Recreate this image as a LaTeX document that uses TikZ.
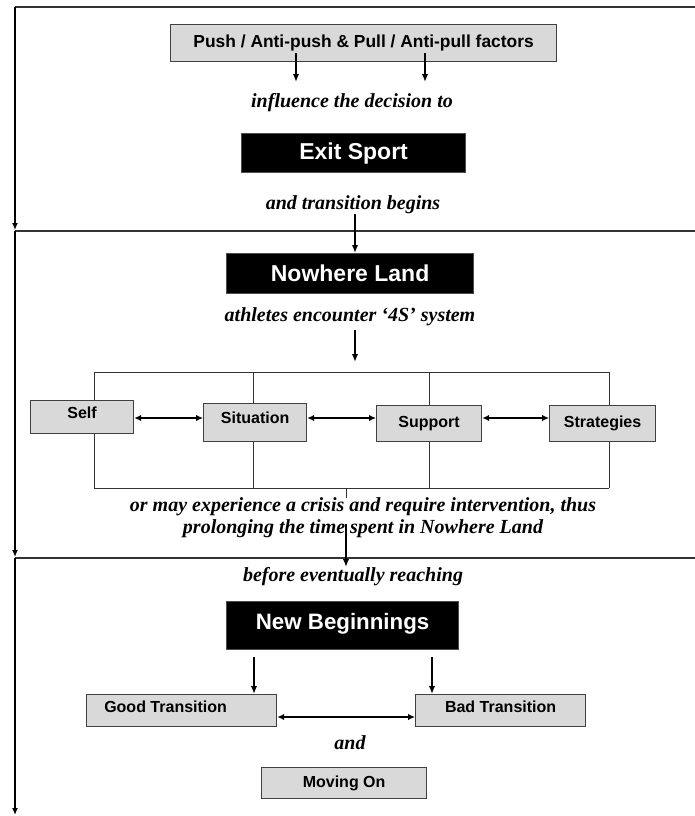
\documentclass[tikz,border=0pt]{standalone}
\usepackage{fontspec}
\setmainfont{Liberation Serif}
\newfontfamily\sansf{Liberation Sans}
\usetikzlibrary{arrows.meta,calc}

\tikzset{
  frameline/.style={line width=1.5pt, draw=black!80},
  leftline/.style={line width=1.6pt, -{Latex[length=7pt,width=6pt]}},
  box/.style={rectangle, inner sep=0pt, anchor=north west, line width=1.2pt},
  graybox/.style={box, draw=black!75, fill=black!15,
    font=\sansf\bfseries\fontsize{16}{19}\selectfont},
  blackbox/.style={box, draw=black!70, fill=black, text=white,
    font=\sansf\bfseries\fontsize{23}{26}\selectfont},
  caption/.style={inner sep=0pt, align=center,
    font=\bfseries\itshape\fontsize{20}{22}\selectfont},
  flow/.style={line width=2pt, -{Latex[length=8pt,width=6.5pt]}},
  twoway/.style={line width=2pt, {Latex[length=7pt,width=6.5pt]}-{Latex[length=7pt,width=6.5pt]}},
  bracket/.style={line width=1pt, draw=black!80},
}

\begin{document}
\begin{tikzpicture}[x=1pt, y=-1pt]
\useasboundingbox (0,0) rectangle (695,816);

% ---- outer frame and stage separators ----
\coordinate (tl) at (15,7);
\coordinate (tr) at (695,7);
\coordinate (s1l) at (15,231);
\coordinate (s1r) at (695,231);
\coordinate (s2l) at (15,558);
\coordinate (s2r) at (695,558);
\coordinate (bot) at (15,815);
\draw[frameline] (tl) -- (tr);
\draw[frameline] (s1l) -- (s1r);
\draw[frameline] (s2l) -- (s2r);
\draw[leftline] (tl) -- ([yshift=1pt]s1l);
\draw[leftline] (s1l) -- ([yshift=1pt]s2l);
\draw[leftline] (s2l) -- (bot);

% ---- stage 1: exit sport ----
\node[graybox, minimum width=386pt, minimum height=37pt,
      font=\sansf\bfseries\fontsize{17.4}{20}\selectfont] (push) at (170,24)
  {Push / Anti-push \& Pull / Anti-pull factors};
\coordinate (pa) at (296,53);
\coordinate (pb) at (425,53);
\coordinate (pa2) at (296,82);
\coordinate (pb2) at (425,82);
\draw[flow] (pa) -- (pa2);
\draw[flow] (pb) -- (pb2);

\node[caption] (influence) at (352,103) {influence the decision to};

\node[blackbox, minimum width=224pt, minimum height=39pt] (exit) at (241,133) {Exit Sport};

\node[caption] (begins) at (353,205) {and transition begins};

% ---- stage 2: nowhere land ----
\node[blackbox, minimum width=247pt, minimum height=40pt] (nowhere) at (226,253) {Nowhere Land};
\coordinate (b1) at (355,214);
\draw[flow] (b1) -- (b1 |- nowhere.north);

\node[caption] (encounter) at (350,317) {athletes encounter ‘4S’ system};
\coordinate (e1) at (355,330);
\coordinate (e2) at (355,362);
\draw[flow] (e1) -- (e2);

\node[graybox, minimum width=103pt, minimum height=33pt, text depth=9pt] (self) at (30,400) {Self};
\node[graybox, minimum width=103pt, minimum height=38pt, text depth=10pt] (situation) at (203,403) {Situation};
\node[graybox, minimum width=105pt, minimum height=36pt] (support) at (376,405) {Support};
\node[graybox, minimum width=106pt, minimum height=36pt] (strategies) at (549,405) {Strategies};

% the frame that groups the four S
\coordinate (gtl) at (94,372);
\coordinate (gtr) at (609,372);
\coordinate (gbl) at (94,488);
\coordinate (gbr) at (609,488);
\draw[bracket] (gtl) -- (gtr);
\draw[bracket] (gbl) -- (gbr);
\draw[bracket] (gtl) -- (gtl |- self.north);
\draw[bracket] (gbl) -- (gbl |- self.south);
\draw[bracket] (253,372) -- (253,372 |- situation.north);
\draw[bracket] (253,488) -- (253,488 |- situation.south);
\draw[bracket] (429,372) -- (429,372 |- support.north);
\draw[bracket] (429,488) -- (429,488 |- support.south);
\draw[bracket] (gtr) -- (gtr |- strategies.north);
\draw[bracket] (gbr) -- (gbr |- strategies.south);

\coordinate (h) at (0,418);
\draw[twoway] (self.east |- h) -- (situation.west |- h);
\draw[twoway] (situation.east |- h) -- (support.west |- h);
\draw[twoway] (support.east |- h) -- (strategies.west |- h);

\coordinate (t1) at (346,488);
\coordinate (t2) at (346,498);
\draw[bracket] (t1) -- (t2);

\node[caption] (crisis) at (363,518)
  {or may experience a crisis and require intervention, thus\\
   prolonging the time spent in Nowhere Land};

% ---- stage 3: new beginnings ----
\coordinate (c1) at (346,524);
\coordinate (c2) at (346,567);
\draw[flow] (c1) -- (c2);

\node[caption] (reaching) at (353,577) {before eventually reaching};

\node[blackbox, minimum width=232pt, minimum height=48pt, text depth=9pt,
      font=\sansf\bfseries\fontsize{22.3}{26}\selectfont] (newbeg) at (226,601) {New Beginnings};

\node[graybox, minimum width=190pt, minimum height=32pt, text depth=7pt] (good) at (86,694)
  {Good Transition\kern32pt};
\node[graybox, minimum width=170pt, minimum height=32pt, text depth=7pt] (bad) at (415,694)
  {Bad Transition};

\coordinate (n1) at (254,657);
\coordinate (n2) at (432,657);
\draw[flow] (n1) -- (n1 |- good.north);
\draw[flow] (n2) -- (n2 |- bad.north);

\coordinate (g) at (0,717);
\draw[twoway] (good.east |- g) -- (bad.west |- g);

\node[caption] (and) at (350,743) {and};

\node[graybox, minimum width=165pt, minimum height=31pt] (moving) at (261,767) {Moving On};

\end{tikzpicture}
\end{document}
